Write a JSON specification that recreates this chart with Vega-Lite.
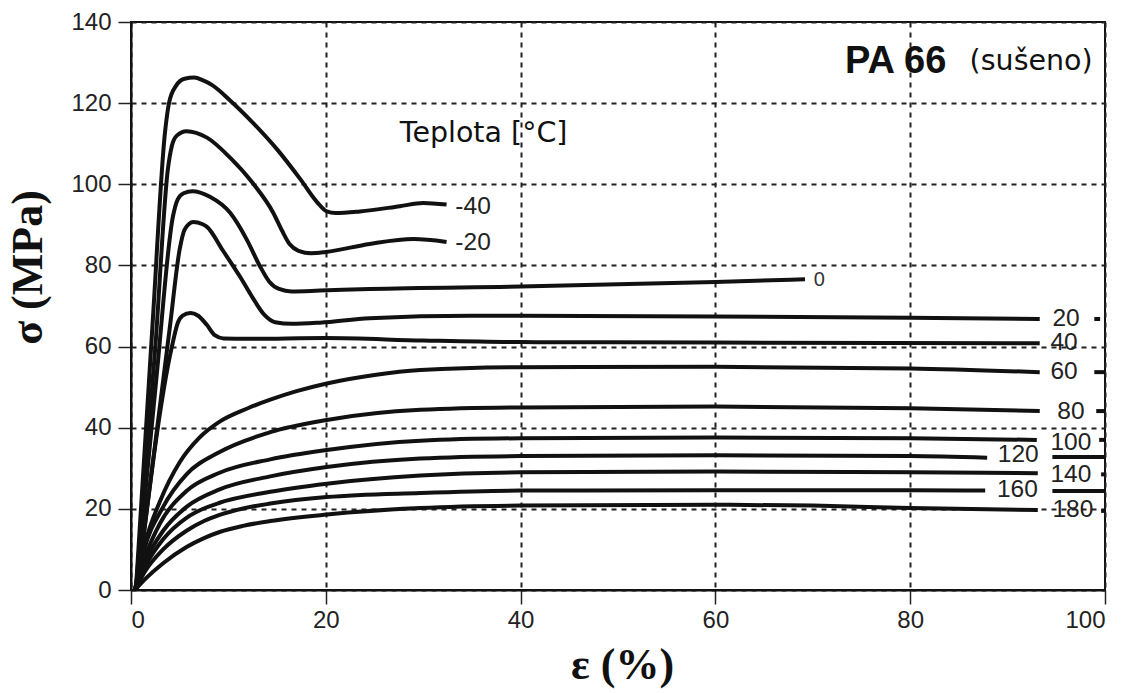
{
  "$schema": "https://vega.github.io/schema/vega-lite/v6.json",
  "width": 974,
  "height": 568,
  "autosize": {"type": "none"},
  "padding": {"left": 131, "top": 22, "right": 36, "bottom": 103},
  "background": "white",
  "config": {
    "view": {"stroke": "#111", "strokeWidth": 2},
    "axis": {
      "labelFont": "Liberation Sans",
      "labelFontSize": 24,
      "labelColor": "#222",
      "tickColor": "#222",
      "tickWidth": 1.5,
      "domainColor": "#111",
      "domainWidth": 2,
      "gridColor": "#222",
      "gridWidth": 2,
      "gridDash": [5, 5],
      "gridOpacity": 1,
      "titleFont": "Liberation Serif",
      "titleFontWeight": "bold",
      "titleFontSize": 44,
      "titleColor": "#111"
    }
  },
  "datasets": {
    "curves": [
      {"s":"-40","x":0.5,"y":0},{"s":"-40","x":2.2,"y":65},{"s":"-40","x":3.5,"y":113},{"s":"-40","x":3.9,"y":120},{"s":"-40","x":4.6,"y":124.2},{"s":"-40","x":5.5,"y":126},{"s":"-40","x":6.5,"y":126.3},{"s":"-40","x":7.4,"y":125.6},{"s":"-40","x":8.3,"y":124.5},{"s":"-40","x":10.2,"y":120.6},{"s":"-40","x":12.5,"y":115.2},{"s":"-40","x":15,"y":108.6},{"s":"-40","x":17.4,"y":101.2},{"s":"-40","x":19.1,"y":95.6},{"s":"-40","x":20.1,"y":93.3},{"s":"-40","x":21,"y":92.9},{"s":"-40","x":23.5,"y":93.3},{"s":"-40","x":27.6,"y":94.6},{"s":"-40","x":30,"y":95.4},{"s":"-40","x":32.4,"y":95},
      {"s":"-20","x":0.5,"y":0},{"s":"-20","x":2.5,"y":60},{"s":"-20","x":3.8,"y":104},{"s":"-20","x":4.2,"y":109.5},{"s":"-20","x":4.7,"y":112},{"s":"-20","x":5.7,"y":113.1},{"s":"-20","x":7.8,"y":111.5},{"s":"-20","x":10.2,"y":106.5},{"s":"-20","x":12.5,"y":100.3},{"s":"-20","x":14.6,"y":93},{"s":"-20","x":15.5,"y":88.6},{"s":"-20","x":16.3,"y":85.2},{"s":"-20","x":17.2,"y":83.6},{"s":"-20","x":18.5,"y":83},{"s":"-20","x":20,"y":83.3},{"s":"-20","x":24.5,"y":85.3},{"s":"-20","x":29,"y":86.5},{"s":"-20","x":32.4,"y":85.8},
      {"s":"0","x":0.5,"y":0},{"s":"0","x":2.6,"y":52},{"s":"0","x":4.3,"y":92},{"s":"0","x":4.8,"y":96.3},{"s":"0","x":5.4,"y":97.8},{"s":"0","x":6.3,"y":98.3},{"s":"0","x":8.1,"y":96.9},{"s":"0","x":10.2,"y":92.9},{"s":"0","x":11.9,"y":86.3},{"s":"0","x":13.2,"y":80},{"s":"0","x":14.2,"y":76},{"s":"0","x":15.2,"y":74.2},{"s":"0","x":16.5,"y":73.6},{"s":"0","x":19.4,"y":73.8},{"s":"0","x":24.5,"y":74.2},{"s":"0","x":40,"y":74.8},{"s":"0","x":60,"y":75.9},{"s":"0","x":69.2,"y":76.6},
      {"s":"20","x":0.6,"y":0},{"s":"20","x":4,"y":65},{"s":"20","x":5,"y":84},{"s":"20","x":5.5,"y":88.8},{"s":"20","x":6.4,"y":90.7},{"s":"20","x":7.3,"y":90.2},{"s":"20","x":7.8,"y":89.5},{"s":"20","x":9.4,"y":83.8},{"s":"20","x":11.2,"y":77.2},{"s":"20","x":12.5,"y":72},{"s":"20","x":13.7,"y":67.8},{"s":"20","x":14.8,"y":66},{"s":"20","x":16.5,"y":65.6},{"s":"20","x":19.4,"y":65.9},{"s":"20","x":24.5,"y":67},{"s":"20","x":35,"y":67.6},{"s":"20","x":60,"y":67.4},{"s":"20","x":80,"y":67.1},{"s":"20","x":93.3,"y":66.8},
      {"s":"40","x":0.6,"y":0},{"s":"40","x":4.2,"y":60},{"s":"40","x":4.8,"y":65.8},{"s":"40","x":5.3,"y":67.6},{"s":"40","x":6.1,"y":68.3},{"s":"40","x":6.9,"y":67.6},{"s":"40","x":7.8,"y":65.3},{"s":"40","x":8.6,"y":62.8},{"s":"40","x":9.5,"y":62},{"s":"40","x":12,"y":61.9},{"s":"40","x":20,"y":62.1},{"s":"40","x":30,"y":61.5},{"s":"40","x":40,"y":61.1},{"s":"40","x":60,"y":61},{"s":"40","x":93.3,"y":60.8},
      {"s":"60","x":0.4,"y":0},{"s":"60","x":1.5,"y":12},{"s":"60","x":3,"y":22},{"s":"60","x":5,"y":31.5},{"s":"60","x":7,"y":37.5},{"s":"60","x":9.1,"y":41.5},{"s":"60","x":12,"y":44.8},{"s":"60","x":14.3,"y":46.9},{"s":"60","x":17,"y":49},{"s":"60","x":20.1,"y":50.9},{"s":"60","x":25,"y":53},{"s":"60","x":29.7,"y":54.2},{"s":"60","x":40,"y":54.9},{"s":"60","x":60,"y":55},{"s":"60","x":80,"y":54.6},{"s":"60","x":93.3,"y":53.7},
      {"s":"80","x":0.4,"y":0},{"s":"80","x":1.3,"y":9.5},{"s":"80","x":3.3,"y":20.5},{"s":"80","x":5.7,"y":28.5},{"s":"80","x":9.1,"y":34},{"s":"80","x":14.3,"y":38.9},{"s":"80","x":20.1,"y":41.9},{"s":"80","x":29.7,"y":44.4},{"s":"80","x":40,"y":45},{"s":"80","x":60,"y":45.2},{"s":"80","x":80,"y":44.8},{"s":"80","x":93.3,"y":44.1},
      {"s":"100","x":0.4,"y":0},{"s":"100","x":1.5,"y":8.5},{"s":"100","x":3,"y":16.5},{"s":"100","x":5.7,"y":24.4},{"s":"100","x":9.1,"y":28.9},{"s":"100","x":14.3,"y":32.2},{"s":"100","x":20.1,"y":34.5},{"s":"100","x":29.7,"y":36.8},{"s":"100","x":40,"y":37.4},{"s":"100","x":60,"y":37.6},{"s":"100","x":80,"y":37.4},{"s":"100","x":93,"y":37},
      {"s":"120","x":0.4,"y":0},{"s":"120","x":1.5,"y":7.2},{"s":"120","x":3.3,"y":14.6},{"s":"120","x":5.7,"y":20.5},{"s":"120","x":9.1,"y":24.8},{"s":"120","x":14.3,"y":28},{"s":"120","x":20.1,"y":30.3},{"s":"120","x":29.7,"y":32.4},{"s":"120","x":40,"y":33},{"s":"120","x":60,"y":33.2},{"s":"120","x":80,"y":33},{"s":"120","x":87.9,"y":32.6},
      {"s":"140","x":0.4,"y":0},{"s":"140","x":1.5,"y":6},{"s":"140","x":3.3,"y":12.5},{"s":"140","x":5.7,"y":17.8},{"s":"140","x":7.3,"y":19.9},{"s":"140","x":9.1,"y":21.5},{"s":"140","x":14.3,"y":24.2},{"s":"140","x":20.1,"y":26.2},{"s":"140","x":29.7,"y":28.2},{"s":"140","x":40,"y":29},{"s":"140","x":60,"y":29.2},{"s":"140","x":80,"y":29},{"s":"140","x":93.1,"y":28.8},
      {"s":"160","x":0.4,"y":0},{"s":"160","x":1.5,"y":4.8},{"s":"160","x":3.3,"y":10},{"s":"160","x":5.7,"y":14.6},{"s":"160","x":7.5,"y":17},{"s":"160","x":9.1,"y":18.5},{"s":"160","x":11.5,"y":20.1},{"s":"160","x":14.3,"y":21.3},{"s":"160","x":20.1,"y":22.9},{"s":"160","x":29.7,"y":23.9},{"s":"160","x":40,"y":24.5},{"s":"160","x":60,"y":24.6},{"s":"160","x":80,"y":24.6},{"s":"160","x":87.7,"y":24.5},
      {"s":"180","x":0.4,"y":0},{"s":"180","x":1.5,"y":2.8},{"s":"180","x":3.3,"y":6.6},{"s":"180","x":5.7,"y":10.6},{"s":"180","x":7.5,"y":12.8},{"s":"180","x":9.1,"y":14.3},{"s":"180","x":11.5,"y":15.8},{"s":"180","x":14.3,"y":17},{"s":"180","x":20.1,"y":18.6},{"s":"180","x":29.7,"y":20.2},{"s":"180","x":40,"y":20.8},{"s":"180","x":60,"y":21},{"s":"180","x":70,"y":20.8},{"s":"180","x":80,"y":20.2},{"s":"180","x":93.1,"y":19.7},
      {"s":"20t","x":98.9,"y":66.8},{"s":"20t","x":99.5,"y":66.8},
      {"s":"60t","x":98.9,"y":53.7},{"s":"60t","x":100,"y":53.7},
      {"s":"80t","x":99.1,"y":44.1},{"s":"80t","x":100,"y":44.1},
      {"s":"100t","x":99.4,"y":37},{"s":"100t","x":100,"y":37},
      {"s":"120t","x":94.6,"y":32.8},{"s":"120t","x":100,"y":32.8},
      {"s":"140t","x":99.6,"y":28.5},{"s":"140t","x":100,"y":28.5},
      {"s":"160t","x":94.6,"y":24.4},{"s":"160t","x":100,"y":24.4},
      {"s":"180t","x":99.6,"y":19.5},{"s":"180t","x":100,"y":19.5}
    ],
    "labels": [
      {"t":"-40","x":33.3,"y":94.4},
      {"t":"-20","x":33.3,"y":85.5},
      {"t":"20","x":94.6,"y":66.9},
      {"t":"40","x":94.4,"y":60.9},
      {"t":"60","x":94.4,"y":53.7},
      {"t":"80","x":95.1,"y":43.9},
      {"t":"100","x":94.4,"y":36.2},
      {"t":"120","x":89,"y":33.3},
      {"t":"140","x":94.4,"y":28.3},
      {"t":"160","x":88.9,"y":24.6},
      {"t":"180","x":94.6,"y":19.7}
    ],
    "zero": [{"t":"0","x":70.1,"y":76.4}],
    "head": [{"t":"PA 66","x":73.3,"y":127.4}],
    "dry": [{"t":"(sušeno)","x":86.1,"y":128.2}],
    "legend": [{"t":"Teplota [°C]","x":27.6,"y":110.4}]
  },
  "encoding": {
    "x": {
      "field": "x", "type": "quantitative",
      "scale": {"domain": [0, 100], "nice": false, "zero": false},
      "axis": {
        "values": [0, 20, 40, 60, 80, 100],
        "tickSize": 14,
        "labelPadding": 4,
        "title": "ε (%)",
        "titleX": 491, "titleY": 75,
        "titleAlign": "center", "titleBaseline": "middle"
      }
    },
    "y": {
      "field": "y", "type": "quantitative",
      "scale": {"domain": [0, 140], "nice": false, "zero": false},
      "axis": {
        "values": [0, 20, 40, 60, 80, 100, 120, 140],
        "tickSize": 13,
        "labelPadding": 7,
        "title": "σ (MPa)",
        "titleAngle": -90,
        "titleX": -103, "titleY": 245,
        "titleAlign": "center", "titleBaseline": "middle"
      }
    }
  },
  "layer": [
    {
      "data": {"name": "curves"},
      "mark": {"type": "line", "color": "#111", "strokeWidth": 4, "interpolate": "monotone", "strokeCap": "butt", "strokeJoin": "round"},
      "encoding": {"detail": {"field": "s", "type": "nominal"}}
    },
    {
      "data": {"name": "labels"},
      "mark": {"type": "text", "align": "left", "baseline": "middle", "font": "Liberation Sans", "fontSize": 24.5, "color": "#222"},
      "encoding": {"text": {"field": "t"}}
    },
    {
      "data": {"name": "zero"},
      "mark": {"type": "text", "align": "left", "baseline": "middle", "font": "Liberation Sans", "fontSize": 20, "color": "#333"},
      "encoding": {"text": {"field": "t"}}
    },
    {
      "data": {"name": "head"},
      "mark": {"type": "text", "align": "left", "baseline": "alphabetic", "font": "Liberation Sans", "fontWeight": "bold", "fontSize": 38, "color": "#111"},
      "encoding": {"text": {"field": "t"}}
    },
    {
      "data": {"name": "dry"},
      "mark": {"type": "text", "align": "left", "baseline": "alphabetic", "font": "DejaVu Sans", "fontSize": 28.5, "color": "#111"},
      "encoding": {"text": {"field": "t"}}
    },
    {
      "data": {"name": "legend"},
      "mark": {"type": "text", "align": "left", "baseline": "alphabetic", "font": "DejaVu Sans", "fontSize": 28.5, "color": "#111"},
      "encoding": {"text": {"field": "t"}}
    }
  ]
}
